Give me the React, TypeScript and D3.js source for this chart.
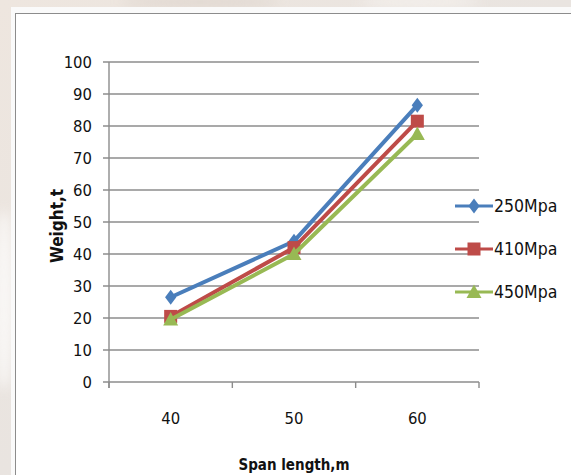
import React from "react";
import * as d3 from "d3";

const categories = ["40", "50", "60"];
const seriesNames = ["250Mpa", "410Mpa", "450Mpa"];
const values250 = [26.5, 44, 86.5];
const values410 = [20.5, 42, 81.5];
const values450 = [19.5, 40, 77.5];
const yTicks = [0, 10, 20, 30, 40, 50, 60, 70, 80, 90, 100];
const colors = ["#4A7EBB", "#BE4B48", "#98B954"];
const markers = ["diamond", "square", "triangle"];

const W = 571;
const H = 475;
const plot = { left: 109, right: 479, top: 62, bottom: 382 };
const FONT = "'DejaVu Sans Condensed', 'Liberation Sans Narrow', sans-serif";

function Marker({ kind, x, y, color }: { kind: string; x: number; y: number; color: string }) {
  if (kind === "diamond") {
    const s = 7.5;
    return <path d={`M${x},${y - s}L${x + s * 0.75},${y}L${x},${y + s}L${x - s * 0.75},${y}Z`} fill={color} />;
  }
  if (kind === "square") {
    const s = 6.5;
    return <rect x={x - s} y={y - s} width={s * 2} height={s * 2} fill={color} />;
  }
  const s = 7.5;
  return <path d={`M${x},${y - s}L${x + s},${y + s * 0.8}L${x - s},${y + s * 0.8}Z`} fill={color} />;
}

export default function App() {
  const x = d3.scaleBand<string>().domain(categories).range([plot.left, plot.right]);
  const y = d3.scaleLinear().domain([0, 100]).range([plot.bottom, plot.top]);
  const series = [values250, values410, values450];
  const line = d3
    .line<number>()
    .x((_, i) => (x(categories[i]) as number) + x.bandwidth() / 2)
    .y((d) => y(d));
  const xBounds = [...categories.map((c) => x(c) as number), plot.right];
  const legendY = [206, 249, 292];

  return (
    <svg
      width={W}
      height={H}
      style={{ position: "absolute", left: 0, top: 0, display: "block" }}
    >
      <defs>
        <linearGradient id="bgfade" x1="0" y1="0" x2="1" y2="1">
          <stop offset="0" stopColor="#eee6df" />
          <stop offset="0.5" stopColor="#e9e4e0" />
          <stop offset="1" stopColor="#f1ebe6" />
        </linearGradient>
        <filter id="soft">
          <feGaussianBlur stdDeviation="6" />
        </filter>
      </defs>
      <rect width={W} height={H} fill="url(#bgfade)" />
      <g filter="url(#soft)" opacity={0.7}>
        <ellipse cx={4} cy={300} rx={10} ry={90} fill="#ffffff" />
        <ellipse cx={200} cy={2} rx={80} ry={6} fill="#dcd2ca" />
        <ellipse cx={420} cy={2} rx={60} ry={6} fill="#f8f5f2" />
      </g>
      <rect x={11} y={7} width={W} height={H} fill="#fafafa" />
      <rect x={15.5} y={13.5} width={W} height={H} fill="#ffffff" stroke="#8c8c8c" strokeWidth={1} />

      {/* gridlines */}
      {yTicks.map((t) => (
        <line
          key={t}
          x1={plot.left - 6}
          x2={plot.right}
          y1={y(t)}
          y2={y(t)}
          stroke="#8c8c8c"
          strokeWidth={1.4}
        />
      ))}
      {/* axes */}
      <line x1={plot.left} x2={plot.left} y1={plot.top} y2={plot.bottom + 6} stroke="#8c8c8c" strokeWidth={1.4} />
      {xBounds.map((b, i) => (
        <line key={i} x1={b} x2={b} y1={plot.bottom} y2={plot.bottom + 6} stroke="#8c8c8c" strokeWidth={1.4} />
      ))}

      {yTicks.map((t) => (
        <text
          key={t}
          x={92}
          y={y(t)}
          dy="0.35em"
          textAnchor="end"
          fontFamily={FONT}
          fontSize={16.5}
          fill="#111"
        >
          {t}
        </text>
      ))}
      {categories.map((c) => (
        <text
          key={c}
          x={(x(c) as number) + x.bandwidth() / 2}
          y={418}
          dy="0.35em"
          textAnchor="middle"
          fontFamily={FONT}
          fontSize={16.5}
          fill="#111"
        >
          {c}
        </text>
      ))}

      <text
        transform={`translate(57,${(plot.top + plot.bottom) / 2 + 4}) rotate(-90)`}
        dy="0.35em"
        textAnchor="middle"
        fontFamily={FONT}
        fontWeight="bold"
        fontSize={17}
        fill="#111"
      >
        Weight,t
      </text>
      <text
        x={(plot.left + plot.right) / 2}
        y={465}
        dy="0.35em"
        textAnchor="middle"
        fontFamily={FONT}
        fontWeight="bold"
        fontSize={15}
        fill="#111"
      >
        Span length,m
      </text>

      {series.map((vals, si) => (
        <g key={si}>
          <path d={line(vals) || ""} fill="none" stroke={colors[si]} strokeWidth={4} strokeLinejoin="round" />
          {vals.map((v, i) => (
            <Marker
              key={i}
              kind={markers[si]}
              x={(x(categories[i]) as number) + x.bandwidth() / 2}
              y={y(v)}
              color={colors[si]}
            />
          ))}
        </g>
      ))}

      {seriesNames.map((n, i) => (
        <g key={n}>
          <line x1={455} x2={493} y1={legendY[i]} y2={legendY[i]} stroke={colors[i]} strokeWidth={3} />
          <Marker kind={markers[i]} x={474} y={legendY[i]} color={colors[i]} />
          <text x={494} y={legendY[i]} dy="0.35em" fontFamily={FONT} fontSize={17.5} fill="#111">
            {n}
          </text>
        </g>
      ))}
    </svg>
  );
}
